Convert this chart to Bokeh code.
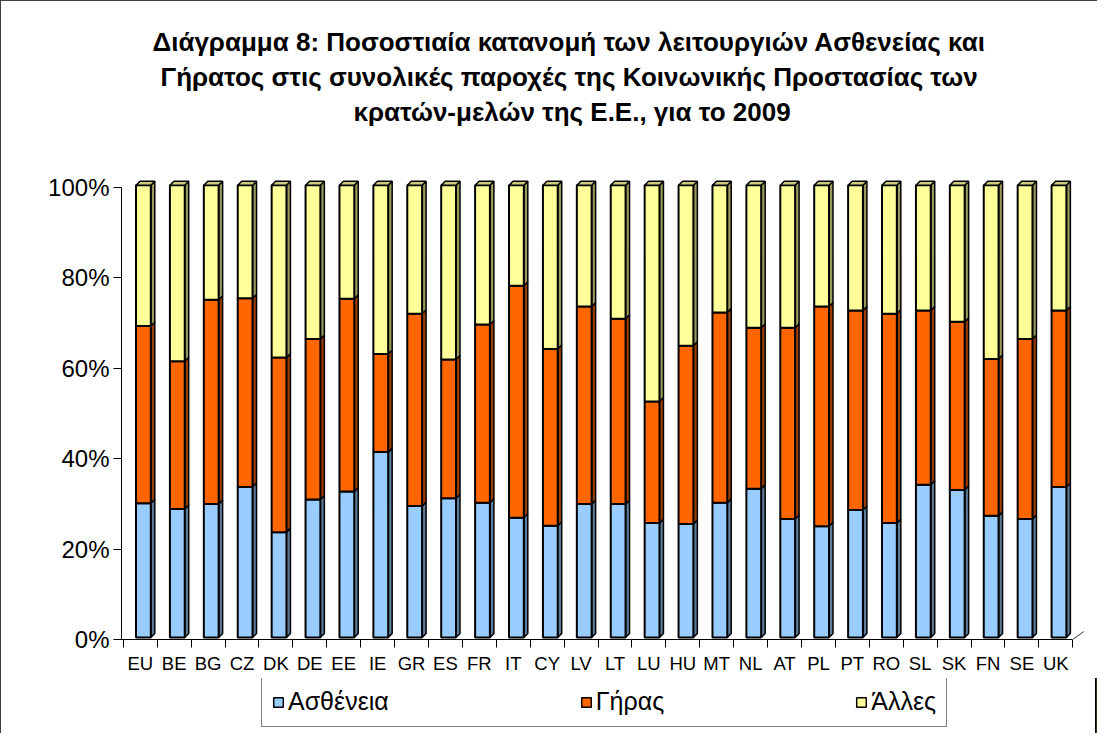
from bokeh.plotting import figure
from bokeh.layouts import column
from bokeh.models import (Range1d, FixedTicker, PrintfTickFormatter, Title,
                          Legend, LegendItem)
from bokeh.embed import file_html
from bokeh.resources import INLINE

# ---------------- data ----------------
countries = ["EU", "BE", "BG", "CZ", "DK", "DE", "EE", "IE", "GR", "ES", "FR", "IT",
             "CY", "LV", "LT", "LU", "HU", "MT", "NL", "AT", "PL", "PT", "RO", "SL",
             "SK", "FN", "SE", "UK"]
sickness = [29.7, 28.4, 29.5, 33.3, 23.3, 30.5, 32.3, 41.0, 29.1, 30.8, 29.8, 26.5,
            24.7, 29.5, 29.5, 25.3, 25.1, 29.8, 32.9, 26.2, 24.6, 28.2, 25.3, 33.8,
            32.6, 26.9, 26.2, 33.3]
old_age = [39.2, 32.7, 45.2, 41.7, 38.6, 35.5, 42.6, 21.7, 42.5, 30.7, 39.4, 51.3,
           39.1, 43.7, 41.0, 26.9, 39.4, 42.1, 35.6, 42.3, 48.6, 44.1, 46.3, 38.5,
           37.2, 34.7, 39.8, 39.0]
other = [31.1, 38.9, 25.3, 25.0, 38.1, 34.0, 25.1, 37.3, 28.4, 38.5, 30.8, 22.2,
         36.2, 26.8, 29.5, 47.8, 35.5, 28.1, 31.5, 31.5, 26.8, 27.7, 28.4, 27.7,
         30.2, 38.4, 34.0, 27.7]
series_names = ["Ασθένεια", "Γήρας", "Άλλες"]
y_ticks = [0, 20, 40, 60, 80, 100]
title_lines = [
    "Διάγραμμα 8: Ποσοστιαία κατανομή των λειτουργιών Ασθενείας και",
    "Γήρατος στις συνολικές παροχές της Κοινωνικής Προστασίας των",
    "κρατών-μελών της Ε.Ε., για το 2009",
]

# ---------------- style ----------------
FONT = "Liberation Sans"
front_colors = ["#99CCFF", "#FF6600", "#FFFF99"]
side_colors = ["#5C7A99", "#993D00", "#99995C"]
top_color = "#CCCC7A"
title_offsets = [31, 39, 232]
BORDER = "1px solid #404040"

W = 1097
H_CHART, H_LEGEND = 678, 55
LEFT, RIGHT, TOP, BOTTOM = 120, 2, 127, 40
PX_X = 33.91
PX_Y = 4.522
x_start = -0.553
x_end = x_start + (W - LEFT - RIGHT) / PX_X
y_end = (H_CHART - TOP - BOTTOM) / PX_Y

BAR_W = 14.8 / PX_X
SHIFT_X = 0.093
SHIFT_Y = 0.44
DX = 4 / PX_X
DY = 4 / PX_Y

p = figure(width=W, height=H_CHART, x_range=Range1d(x_start, x_end),
           y_range=Range1d(0, y_end), output_backend="svg", toolbar_location=None,
           min_border_left=LEFT, min_border_right=RIGHT,
           min_border_top=TOP, min_border_bottom=BOTTOM)
p.styles = {"border-left": BORDER, "border-top": BORDER}
p.outline_line_color = None
p.xgrid.visible = False
p.ygrid.visible = False
p.background_fill_color = "white"
p.border_fill_color = "white"

n = len(countries)
series = [sickness, old_age, other]
totals = [sickness[i] + old_age[i] + other[i] for i in range(n)]
xc = [i + SHIFT_X for i in range(n)]

bottoms = [0.0] * n
for k, vals in enumerate(series):
    shares = [100.0 * vals[i] / totals[i] for i in range(n)]
    tops = [bottoms[i] + shares[i] for i in range(n)]
    # side faces (depth)
    xs_side, ys_side = [], []
    for i in range(n):
        xr = xc[i] + BAR_W / 2
        b = bottoms[i] + SHIFT_Y
        t = tops[i] + SHIFT_Y
        xs_side.append([xr, xr + DX, xr + DX, xr])
        ys_side.append([b, b + DY, t + DY, t])
    p.patches(xs_side, ys_side, fill_color=side_colors[k], line_color="black", line_width=1.5)
    p.vbar(x=xc, width=BAR_W, bottom=[b + SHIFT_Y for b in bottoms],
           top=[t + SHIFT_Y for t in tops], fill_color=front_colors[k],
           line_color="black", line_width=2)
    if k == len(series) - 1:
        xs_top, ys_top = [], []
        for i in range(n):
            xl = xc[i] - BAR_W / 2
            xr = xc[i] + BAR_W / 2
            t = tops[i] + SHIFT_Y
            xs_top.append([xl, xl + DX, xr + DX, xr])
            ys_top.append([t, t + DY, t + DY, t])
        p.patches(xs_top, ys_top, fill_color=top_color, line_color="black", line_width=1.5)
    bottoms = tops

# floor depth edge at right end of the category axis
p.line(x=[n - 0.5, n - 0.5 + 11 / PX_X], y=[0, 8 / PX_Y], line_color="#333333", line_width=1)

# y axis
ya = p.yaxis[0]
ya.ticker = FixedTicker(ticks=y_ticks)
ya.formatter = PrintfTickFormatter(format="%d%%")
ya.bounds = (0, 100)
ya.major_tick_out = 8
ya.major_tick_in = 0
ya.minor_tick_out = 0
ya.minor_tick_in = 0
ya.axis_line_color = "black"
ya.major_tick_line_color = "black"
ya.major_label_standoff = 4
ya.major_label_text_font = FONT
ya.major_label_text_font_size = "24px"
ya.major_label_text_color = "black"

# x axis
xa = p.xaxis[0]
xa.ticker = FixedTicker(ticks=list(range(n)), minor_ticks=[k - 0.5 for k in range(n + 1)])
xa.major_label_overrides = {i: c for i, c in enumerate(countries)}
xa.bounds = (x_start, n - 0.5)
xa.major_tick_out = 0
xa.major_tick_in = 0
xa.minor_tick_out = 8
xa.minor_tick_in = 0
xa.minor_tick_line_color = "black"
xa.axis_line_color = "black"
xa.major_label_standoff = 5
xa.major_label_text_font = FONT
xa.major_label_text_font_size = "18.5px"
xa.major_label_text_color = "black"

# titles (innermost first)
for line, off in reversed(list(zip(title_lines, title_offsets))):
    p.add_layout(Title(text=line, align="left", offset=off, text_font=FONT,
                       text_font_size="26px", text_font_style="bold",
                       text_color="black", standoff=3), "above")

# ---------------- legend strip ----------------
pl = figure(width=W, height=H_LEGEND, x_range=Range1d(-3, -2), y_range=Range1d(0, 1),
            output_backend="svg", toolbar_location=None,
            x_axis_location=None, y_axis_location=None, min_border=0)
pl.styles = {"border-left": BORDER}
pl.outline_line_color = None
pl.xgrid.visible = False
pl.ygrid.visible = False
pl.background_fill_color = "white"
pl.border_fill_color = "white"

legend_items = []
for k, name in enumerate(series_names):
    r = pl.vbar(x=xc, width=BAR_W, top=series[k], fill_color=front_colors[k],
                line_color="black", line_width=1.5)
    legend_items.append(LegendItem(label=name, renderers=[r]))

legend = Legend(items=legend_items, orientation="horizontal", location=(140, 6),
                spacing=191, padding=10, margin=0, glyph_width=12, glyph_height=12,
                label_standoff=4, label_text_font=FONT, label_text_font_size="25px",
                label_text_color="black", border_line_color="black", border_line_width=1,
                background_fill_color="white")
pl.add_layout(legend, "center")

layout = column(p, pl, spacing=0)
open("out.html", "w").write(file_html(layout, INLINE))
